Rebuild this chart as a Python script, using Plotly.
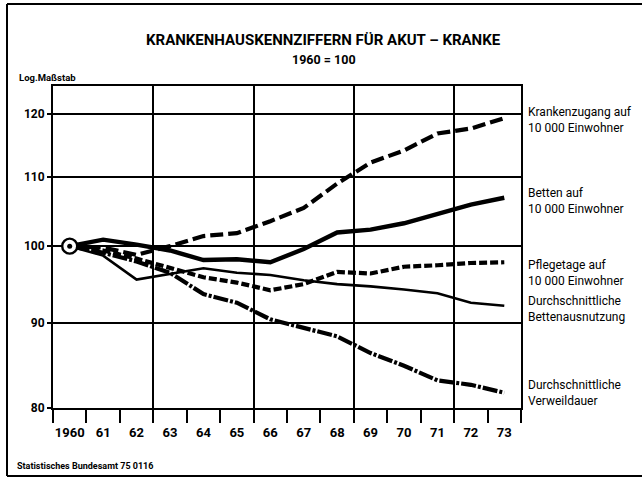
import plotly.graph_objects as go
import numpy as np

# ---- data ----
year_labels = ["1960", "61", "62", "63", "64", "65", "66", "67", "68", "69", "70", "71", "72", "73"]
krankenzugang = [100, 99.8, 98.8, 100.0, 101.4, 101.8, 103.5, 105.4, 109.0, 112.2, 114.1, 116.8, 117.6, 119.3]
betten = [100, 100.9, 100.2, 99.4, 98.1, 98.2, 97.8, 99.6, 101.9, 102.3, 103.2, 104.5, 105.9, 106.9]
pflegetage = [100, 99.4, 98.3, 97.0, 95.8, 95.1, 94.1, 94.9, 96.5, 96.3, 97.2, 97.4, 97.7, 97.8]
bettenausnutzung = [100, 98.7, 95.5, 96.2, 97.0, 96.4, 96.1, 95.4, 94.9, 94.6, 94.2, 93.7, 92.5, 92.1]
verweildauer = [100, 99.1, 97.9, 96.4, 93.6, 92.5, 90.4, 89.4, 88.3, 86.3, 84.8, 83.1, 82.6, 81.7]
y_ticks = [80, 90, 100, 110, 120]
base_value = 100

series_names = [
    "Krankenzugang auf<br>10 000 Einwohner",
    "Betten auf<br>10 000 Einwohner",
    "Pflegetage auf<br>10 000 Einwohner",
    "Durchschnittliche<br>Bettenausnutzung",
    "Durchschnittliche<br>Verweildauer",
]

FONT = "Roboto, 'Liberation Sans', sans-serif"

x = list(range(len(year_labels)))
n = len(x)

fig = go.Figure()

styles = [
    (krankenzugang, dict(width=4.2, dash="13px,5px")),
    (betten, dict(width=4.4, dash="solid")),
    (pflegetage, dict(width=4.2, dash="8px,3px")),
    (bettenausnutzung, dict(width=2.6, dash="solid")),
    (verweildauer, dict(width=4.2, dash="15px,2px,3px,2px")),
]
for (vals, ln), name in zip(styles, series_names):
    fig.add_trace(go.Scatter(x=x, y=vals, mode="lines", name=name.replace("<br>", " "),
                             line=dict(color="black", **ln), showlegend=False, hoverinfo="skip"))

# start marker (1960 = 100): white ring with black dot
fig.add_trace(go.Scatter(x=[x[0]], y=[base_value], mode="markers",
                         marker=dict(symbol="circle", size=15, color="white",
                                     line=dict(width=2.4, color="black")),
                         showlegend=False, hoverinfo="skip"))
fig.add_trace(go.Scatter(x=[x[0]], y=[base_value], mode="markers",
                         marker=dict(symbol="circle", size=5, color="black"),
                         showlegend=False, hoverinfo="skip"))

# invisible trace to activate the grid axis
fig.add_trace(go.Scatter(x=x, y=betten, xaxis="x2", mode="lines", opacity=0,
                         showlegend=False, hoverinfo="skip"))

boundaries = [i - 0.5 for i in range(n + 1)]
grid_bounds = [b for b in boundaries if 0 < b < n - 1 and (b + 0.5) % 3 == 0]

fig.update_layout(
    width=642, height=479,
    margin=dict(l=53, r=121, t=86, b=71),
    paper_bgcolor="white", plot_bgcolor="white",
    font=dict(family=FONT, color="black"),
    xaxis=dict(
        range=[-0.5, n - 0.5],
        tickmode="array", tickvals=x, ticktext=year_labels,
        ticks="outside", ticklen=11, tickcolor="rgba(0,0,0,0)",
        tickfont=dict(size=13, family=FONT, weight="bold"),
        showgrid=False, zeroline=False,
        showline=True, linecolor="black", linewidth=2, mirror=True,
        minor=dict(tickmode="array", tickvals=boundaries, ticks="outside",
                   ticklen=13, tickwidth=2, tickcolor="black", showgrid=False),
    ),
    xaxis2=dict(
        overlaying="x", matches="x", range=[-0.5, n - 0.5],
        tickmode="array", tickvals=grid_bounds, showticklabels=False, ticks="",
        showgrid=True, gridcolor="black", gridwidth=1.6, zeroline=False, showline=False,
    ),
    yaxis=dict(
        type="log",
        range=[np.log10(80), np.log10(124.7)],
        tickmode="array", tickvals=y_ticks, ticktext=[str(v) for v in y_ticks],
        ticks="outside", ticklen=4, tickcolor="black", tickwidth=1.5,
        tickfont=dict(size=12, family=FONT, weight="bold"),
        showgrid=True, gridcolor="black", gridwidth=1.6,
        zeroline=False,
        showline=True, linecolor="black", linewidth=2, mirror=True,
    ),
)

# labels at right
label_y = [0.894, 0.644, 0.419, 0.309, 0.047]
for name, yy in zip(series_names, label_y):
    fig.add_annotation(text=name, xref="paper", yref="paper", x=1.011, y=yy,
                       xanchor="left", yanchor="middle", align="left", showarrow=False,
                       font=dict(size=12, family=FONT))

# title and subtitle
fig.add_annotation(text="<b>KRANKENHAUSKENNZIFFERN FÜR AKUT – KRANKE</b>",
                   xref="paper", yref="paper", x=(323 - 53) / 468, y=(408 - 40) / 322,
                   xanchor="center", yanchor="middle", showarrow=False,
                   font=dict(size=15, family=FONT))
fig.add_annotation(text="<b>1960 = 100</b>",
                   xref="paper", yref="paper", x=(324 - 53) / 468, y=(408 - 60) / 322,
                   xanchor="center", yanchor="middle", showarrow=False,
                   font=dict(size=12.5, family=FONT))
fig.add_annotation(text="<b>Log.Maßstab</b>",
                   xref="paper", yref="paper", x=(17 - 53) / 468, y=(408 - 77) / 322,
                   xanchor="left", yanchor="middle", showarrow=False,
                   font=dict(size=9.5, family=FONT))
fig.add_annotation(text="<b>Statistisches Bundesamt 75 0116</b>",
                   xref="paper", yref="paper", x=(15 - 53) / 468, y=(408 - 466) / 322,
                   xanchor="left", yanchor="middle", showarrow=False,
                   font=dict(size=9, family=FONT))

# frame lines (top, left, bottom)
px = lambda v: (v - 53) / 468
py = lambda v: (408 - v) / 322
frame = dict(type="line", xref="paper", yref="paper", line=dict(color="black", width=2))
fig.add_shape(x0=px(7), x1=px(642), y0=py(4), y1=py(4), **frame)
fig.add_shape(x0=px(7), x1=px(642), y0=py(476), y1=py(476), **frame)
fig.add_shape(x0=px(7), x1=px(7), y0=py(4), y1=py(476), **frame)

fig.write_html("out.html", config={"displayModeBar": False},
               post_script="document.body.style.margin='0px';document.body.style.overflow='hidden';")
